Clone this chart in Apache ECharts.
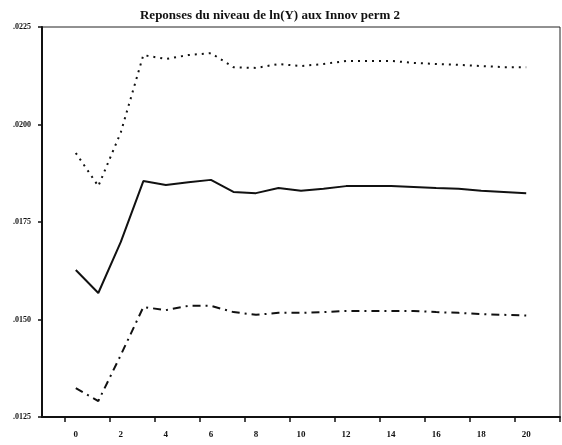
<!DOCTYPE html>
<html>
<head>
<meta charset="utf-8">
<script src="https://cdn.jsdelivr.net/npm/echarts@6/dist/echarts.min.js"></script>
<style>
  html,body{margin:0;padding:0;background:#fff;}
  .chart{width:562px;height:445px;}
</style>
</head>
<body>
<div class="chart"></div>
<script>
var steps = [0,1,2,3,4,5,6,7,8,9,10,11,12,13,14,15,16,17,18,19,20];
var response = [0.01627,0.01568,0.01699,0.01855,0.01845,0.01852,0.01858,0.01827,0.01824,0.01837,0.01830,0.01835,0.01842,0.01842,0.01842,0.01840,0.01837,0.01835,0.01830,0.01827,0.01824];
var upperBand = [0.01927,0.01842,0.01980,0.02178,0.02168,0.02178,0.02183,0.02147,0.02145,0.02155,0.02150,0.02155,0.02163,0.02163,0.02163,0.02158,0.02155,0.02153,0.02150,0.02147,0.02147];
var lowerBand = [0.01324,0.01291,0.01409,0.01532,0.01524,0.01535,0.01535,0.01519,0.01512,0.01517,0.01517,0.01519,0.01522,0.01522,0.01522,0.01522,0.01519,0.01517,0.01514,0.01512,0.01510];
var yTicks = [0.0125,0.0150,0.0175,0.0200,0.0225];

(function(){
    var mycharts = echarts.init(document.querySelector('.chart'));
    // one empty slot on each side so the frame is wider than the data
    var cats = [''].concat(steps.map(String)).concat(['']);
    function pad(arr){ return [null].concat(arr).concat([null]); }
    var font = 'Liberation Serif';
    var option = {
        backgroundColor: '#fff',
        animation: false,
        title: {
            text: 'Reponses du niveau de ln(Y) aux Innov perm 2',
            left: 265,
            textAlign: 'center',
            top: 4,
            textStyle: { fontFamily: font, fontWeight: 'bold', fontSize: 13, color: '#111' }
        },
        grid: {
            left: 42, top: 27, right: 2, bottom: 28,
            show: true, borderColor: '#222', borderWidth: 1
        },
        xAxis: {
            type: 'category',
            data: cats,
            boundaryGap: true,
            axisLine: { lineStyle: { color: '#111', width: 2 } },
            axisTick: { show: true, length: 5, lineStyle: { color: '#111', width: 1.5 } },
            axisLabel: {
                interval: function(i, v){ return v !== '' && (+v) % 2 === 0; },
                fontFamily: font, fontWeight: 'bold', fontSize: 9, color: '#111', margin: 13
            },
            splitLine: { show: false }
        },
        yAxis: {
            type: 'value',
            min: 0.0125, max: 0.0225, interval: 0.0025,
            axisLine: { show: true, lineStyle: { color: '#111', width: 2 } },
            axisTick: { show: true, length: 4, lineStyle: { color: '#111', width: 1.5 } },
            axisLabel: {
                formatter: function(v){
                    for (var i = 0; i < yTicks.length; i++) {
                        if (Math.abs(v - yTicks[i]) < 1e-9) return yTicks[i].toFixed(4).replace(/^0/, '');
                    }
                    return '';
                },
                fontFamily: font, fontWeight: 'bold', fontSize: 8, color: '#111', margin: 11
            },
            splitLine: { show: false }
        },
        series: [
            {
                name: 'upper', type: 'line', data: pad(upperBand),
                symbol: 'none', smooth: false,
                lineStyle: { color: '#111', width: 2, type: [2, 5] }
            },
            {
                name: 'response', type: 'line', data: pad(response),
                symbol: 'none', smooth: false,
                lineStyle: { color: '#111', width: 2 }
            },
            {
                name: 'lower', type: 'line', data: pad(lowerBand),
                symbol: 'none', smooth: false,
                lineStyle: { color: '#111', width: 2, type: [8, 5, 2, 5] }
            }
        ]
    };
    mycharts.setOption(option);
})();
</script>
</body>
</html>
